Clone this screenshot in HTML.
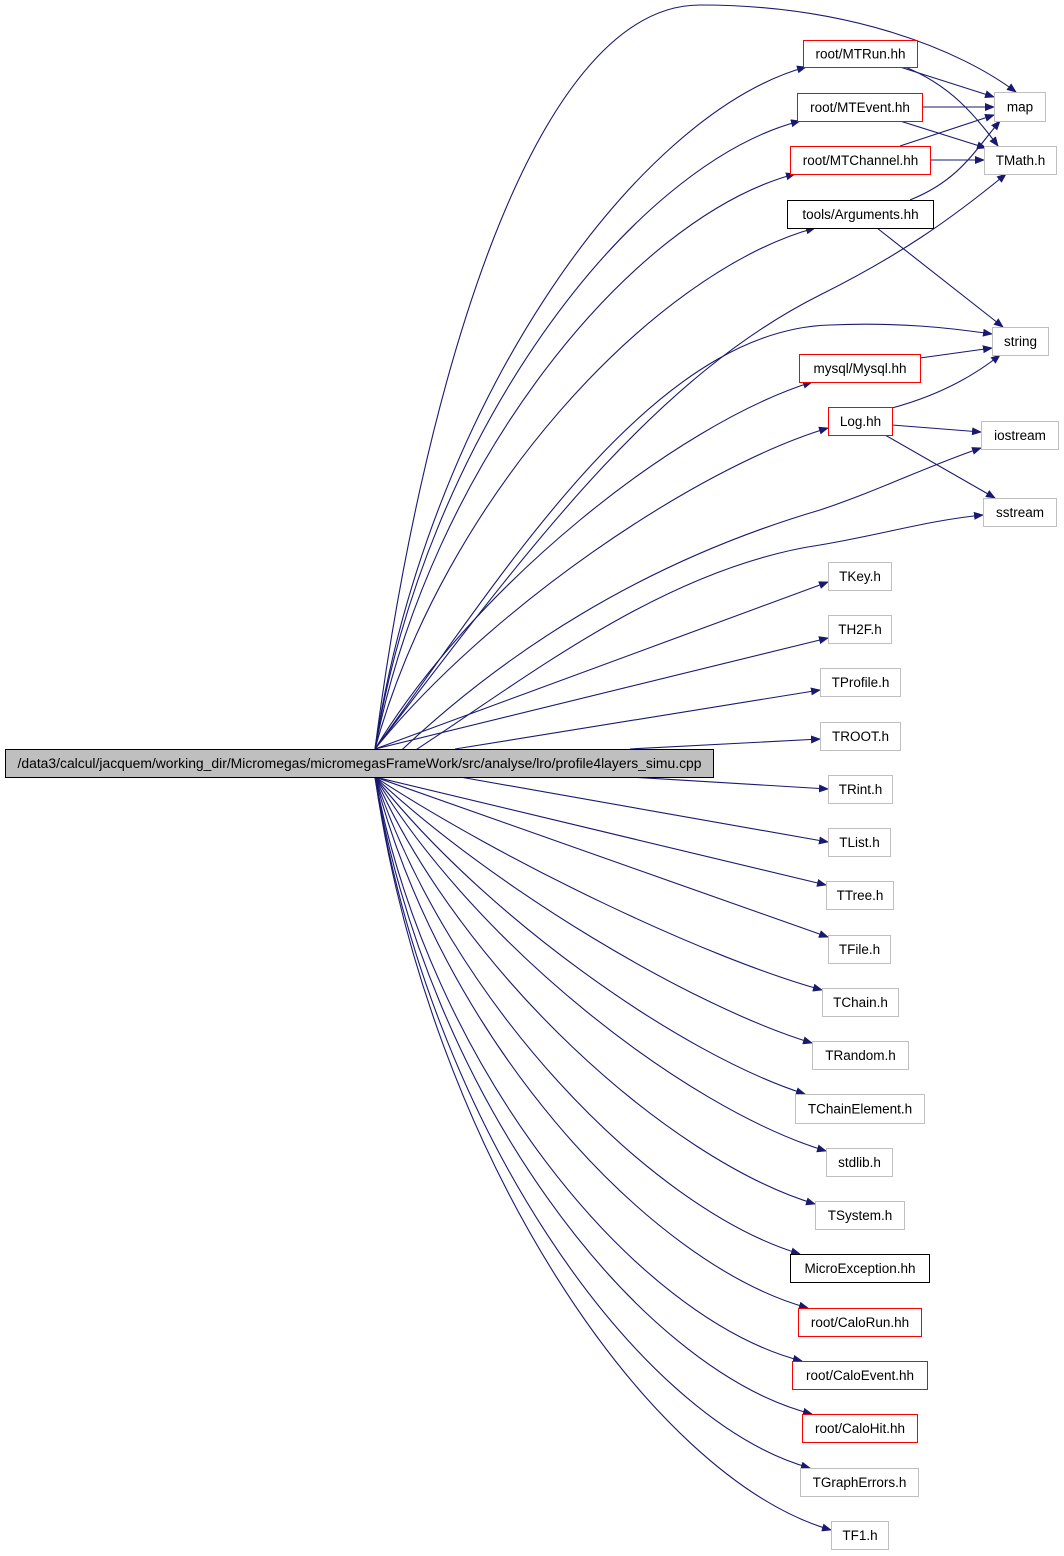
<!DOCTYPE html>
<html><head><meta charset="utf-8"><style>
html,body{margin:0;padding:0;background:#fff;width:1064px;height:1556px;overflow:hidden}
svg{display:block}
text{font-family:"Liberation Sans","DejaVu Sans",sans-serif;font-size:13.5px;fill:#000}
</style></head><body>
<svg id="g" width="1064" height="1556" viewBox="0 0 1064 1556" xmlns="http://www.w3.org/2000/svg">
<defs><marker id="a" markerWidth="10" markerHeight="8" refX="9" refY="4" orient="auto" markerUnits="userSpaceOnUse"><path d="M0,0 L10,4 L0,8 z" fill="#191970"/></marker></defs>
<g id="e" fill="none" stroke="#191970" stroke-width="1.1"></g>
<g id="n"></g>
</svg>
<script>
var N=[
["root/MTRun.hh",803,40,917,67,"r"],["root/MTEvent.hh",797,93,922,121,"r"],["root/MTChannel.hh",790,146,930,174,"r"],
["tools/Arguments.hh",787,200,933,228,"k"],["map",994,92,1045,121,"g"],["TMath.h",984,146,1056,174,"g"],
["string",992,327,1048,355,"g"],["mysql/Mysql.hh",799,354,920,382,"r"],["Log.hh",828,407,892,435,"r"],
["iostream",981,421,1058,449,"g"],["sstream",983,498,1056,526,"g"],
["TKey.h",828,562,891,590,"g"],["TH2F.h",828,615,891,643,"g"],["TProfile.h",820,668,900,696,"g"],
["TROOT.h",820,722,900,750,"g"],["TRint.h",828,775,892,803,"g"],["TList.h",828,828,890,856,"g"],
["TTree.h",826,881,893,909,"g"],["TFile.h",828,935,890,963,"g"],["TChain.h",822,988,898,1016,"g"],
["TRandom.h",812,1041,908,1069,"g"],["TChainElement.h",795,1094,924,1123,"g"],["stdlib.h",826,1148,892,1176,"g"],
["TSystem.h",815,1201,904,1229,"g"],["MicroException.hh",790,1254,929,1282,"k"],["root/CaloRun.hh",798,1308,921,1336,"r"],
["root/CaloEvent.hh",792,1361,927,1389,"r"],["root/CaloHit.hh",802,1414,917,1442,"r"],["TGraphErrors.h",800,1468,918,1496,"g"],
["TF1.h",831,1521,888,1549,"g"]];
var E=[
"M375,749 C420,400 530,5 700,5 C850,5 960,50 1016,92",
"M375,749 C520,560 650,380 820,295 C900,255 950,220 1006,174",
"M375,749 C500,580 650,330 830,325 C900,322 950,328 992,334",
"M375,776 C500,650 650,560 820,510 C880,490 930,465 981,448",
"M375,776 C500,700 650,570 820,545 C880,535 930,520 983,515",
"M900,67 L994,97","M905,67 C950,85 975,115 998,146","M922,107 L994,107","M900,121 L986,148",
"M900,146 L994,115","M930,160 L984,160","M910,200 C960,180 975,150 1000,121","M877,228 L1003,327",
"M920,358 L992,348","M892,408 C940,395 975,375 1000,355","M892,425 L981,432","M885,435 L995,498"];
var T={"root/MTRun.hh":[806,67],"root/MTEvent.hh":[800,121],"root/MTChannel.hh":[795,174],"tools/Arguments.hh":[815,228],
"mysql/Mysql.hh":[812,382],"Log.hh":[828,428],"TKey.h":[828,582],"TH2F.h":[828,638],"TProfile.h":[820,690],"TROOT.h":[820,739],
"TRint.h":[828,789],"TList.h":[828,842],"TTree.h":[826,885],"TFile.h":[828,937],"TChain.h":[822,990],"TRandom.h":[812,1043],
"TChainElement.h":[805,1094],"stdlib.h":[826,1151],"TSystem.h":[815,1204],"MicroException.hh":[800,1254],"root/CaloRun.hh":[808,1308],
"root/CaloEvent.hh":[802,1361],"root/CaloHit.hh":[812,1414],"TGraphErrors.h":[810,1468],"TF1.h":[831,1530]};
var ns="http://www.w3.org/2000/svg",eg=document.getElementById("e"),ng=document.getElementById("n");
function P(d){var p=document.createElementNS(ns,"path");p.setAttribute("d",d);p.setAttribute("marker-end","url(#a)");eg.appendChild(p);}
E.forEach(P);
for(var k in T){var tx=T[k][0],ty=T[k][1];var sy=ty<763?749:777,sx=375;
 if(k=="TROOT.h")sx=630; if(k=="TRint.h")sx=630; if(k=="TProfile.h")sx=455; if(k=="TList.h")sx=460;
 var dx=tx-sx,dy=ty-sy,ad=Math.abs(dy);
 if(ad<200){P("M"+sx+","+sy+" L"+tx+","+ty);}
 else{var t=Math.min(1,(ad-200)/400);
  var a1=0.3-0.18*t,b1=0.4+0.1*t,a2=0.75-0.15*t,b2=0.85+0.08*t;
  P("M"+sx+","+sy+" C"+(sx+dx*a1)+","+(sy+dy*b1)+" "+(sx+dx*a2)+","+(sy+dy*b2)+" "+tx+","+ty);}}
var col={r:"#ff0000",k:"#000000",g:"#bfbfbf"};
function box(t,x1,y1,x2,y2,c,fill,tl){var r=document.createElementNS(ns,"rect");r.setAttribute("x",x1+.5);r.setAttribute("y",y1+.5);
 r.setAttribute("width",x2-x1);r.setAttribute("height",y2-y1);r.setAttribute("fill",fill||"#fff");r.setAttribute("stroke",c);ng.appendChild(r);
 var tx=document.createElementNS(ns,"text");tx.setAttribute("x",(x1+x2)/2+.5);tx.setAttribute("y",(y1+y2)/2+5);tx.setAttribute("text-anchor","middle");
 if(tl){tx.setAttribute("textLength",tl);tx.setAttribute("lengthAdjust","spacingAndGlyphs");}
 tx.textContent=t;ng.appendChild(tx);}
box("/data3/calcul/jacquem/working_dir/Micromegas/micromegasFrameWork/src/analyse/lro/profile4layers_simu.cpp",5,749,713,777,"#000","#bfbfbf",684);
N.forEach(function(a){box(a[0],a[1],a[2],a[3],a[4],col[a[5]]);});
</script>
</body></html>
